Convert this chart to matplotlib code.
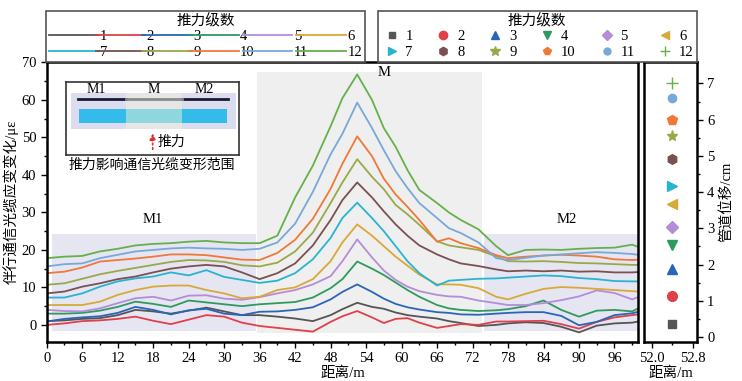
import numpy as np
import matplotlib
matplotlib.use('Agg')
from matplotlib import pyplot as plt
from matplotlib.lines import Line2D
from matplotlib.patches import Rectangle

plt.rcParams['font.family'] = ['Liberation Serif', 'Noto Sans CJK SC']
plt.rcParams['axes.unicode_minus'] = False

# distance along the cable (m)
dist = [0, 3, 6, 9, 12, 15, 18, 21, 24, 27, 30, 33, 36, 39, 42, 45, 48, 50, 52.5, 55, 57, 59,
        61, 63, 66, 68, 70, 73, 76, 78, 81, 84, 87, 90, 93, 96, 99, 100]

# strain change per thrust level (με)
s1 = [1.0, 1.2, 1.6, 1.8, 2.6, 4.0, 3.6, 3.0, 3.8, 4.6, 3.6, 2.6, 2.6, 2.2, 1.7, 1.0, 2.6, 4.2, 5.9, 4.8, 4.3, 3.3,
      2.6, 2.2, 1.7, 1.0, 0.5, -0.3, 0.0, 0.4, 0.7, 0.5, -0.5, -2.0, -0.2, 0.4, 0.6, 0.9]
s2 = [0.0, 0.4, 1.0, 1.2, 1.6, 2.2, 1.1, 0.2, 1.4, 2.6, 2.2, 0.6, -0.3, -0.8, -1.3, -1.8, 0.8, 2.3, 3.7, 2.0, 0.5, 1.6,
      1.8, 0.6, -0.8, -0.3, 0.2, 0.0, 0.9, 0.9, 1.0, 1.1, 0.2, -1.0, 0.8, 2.0, 2.6, 2.8]
s3 = [0.9, 1.6, 2.0, 2.3, 3.2, 4.8, 4.0, 2.8, 3.9, 4.3, 3.0, 2.6, 3.5, 3.6, 4.0, 4.7, 6.8, 8.8, 10.8, 8.8, 7.0, 5.6,
      4.7, 4.1, 3.4, 3.2, 2.8, 2.7, 3.0, 3.2, 3.4, 3.4, 2.4, -0.1, 0.8, 2.6, 3.1, 3.5]
s4 = [3.0, 3.0, 3.2, 3.8, 4.8, 6.2, 5.6, 4.8, 6.5, 6.0, 5.5, 5.0, 5.5, 5.8, 6.1, 7.3, 9.8, 12.2, 16.9, 15.0, 13.3, 11.3,
      9.3, 7.5, 5.3, 4.4, 4.0, 3.7, 3.9, 4.2, 5.0, 6.5, 4.0, 2.2, 3.8, 4.0, 3.6, 4.4]
s5 = [4.0, 3.7, 3.6, 4.4, 5.8, 7.1, 7.5, 6.5, 7.8, 7.9, 7.0, 6.7, 7.4, 8.4, 9.3, 10.8, 13.0, 17.0, 22.8, 18.0, 14.5, 12.0,
      10.2, 9.0, 8.0, 7.6, 7.5, 6.5, 5.8, 5.3, 5.3, 5.8, 6.6, 7.6, 9.2, 8.5, 6.8, 7.4]
s6 = [5.3, 5.3, 5.3, 6.2, 8.0, 9.3, 10.2, 10.5, 10.5, 9.3, 8.4, 7.1, 7.5, 9.3, 10.0, 12.2, 17.0, 22.0, 26.8, 23.8, 21.0, 18.2,
      15.8, 13.4, 10.8, 10.8, 10.7, 9.8, 7.5, 6.8, 8.3, 9.6, 10.1, 9.9, 9.6, 9.3, 9.0, 8.9]
s7 = [7.3, 7.3, 8.4, 10.2, 11.6, 12.4, 12.9, 14.0, 13.2, 14.6, 12.8, 12.0, 11.2, 11.8, 13.8, 17.5, 23.2, 28.5, 32.6, 28.5, 25.0, 21.0,
      17.0, 13.8, 10.5, 11.8, 12.0, 12.3, 12.4, 12.6, 12.9, 13.2, 13.0, 12.5, 12.2, 11.7, 11.6, 11.6]
s8 = [8.4, 8.9, 10.2, 11.1, 12.2, 12.9, 14.0, 15.0, 15.6, 16.0, 15.6, 14.0, 12.2, 13.8, 16.4, 21.2, 28.0, 33.3, 38.0, 34.0, 30.3, 26.8,
      23.8, 21.2, 18.8, 17.5, 16.4, 15.7, 14.8, 14.3, 14.5, 14.3, 14.5, 14.2, 14.3, 14.0, 14.0, 14.1]
s9 = [10.7, 11.1, 12.3, 13.5, 14.4, 15.2, 16.0, 16.8, 17.3, 17.2, 16.8, 15.9, 15.6, 16.6, 19.6, 24.6, 32.5, 38.0, 44.2, 39.5, 36.2, 32.0,
      29.5, 26.7, 22.3, 21.2, 20.7, 20.0, 18.3, 17.0, 16.9, 17.0, 16.8, 16.5, 16.4, 16.2, 16.0, 16.0]
s10 = [13.8, 14.2, 15.3, 16.9, 17.3, 17.7, 18.2, 18.8, 18.8, 18.6, 18.0, 17.4, 17.3, 19.2, 22.7, 28.3, 36.3, 43.0, 50.3, 45.0, 39.0, 34.8,
       31.5, 28.0, 22.2, 23.1, 21.8, 20.5, 18.6, 17.8, 18.2, 18.5, 18.7, 18.5, 18.2, 17.5, 17.3, 17.4]
s11 = [15.6, 16.2, 16.4, 17.8, 18.7, 19.6, 20.0, 20.4, 20.6, 20.4, 20.3, 20.0, 20.3, 22.0, 27.0, 35.5, 45.5, 51.0, 59.3, 52.5, 46.6, 41.0,
       36.5, 32.5, 28.5, 25.8, 24.5, 22.0, 17.8, 17.3, 17.9, 18.5, 18.8, 19.1, 19.4, 19.2, 18.9, 18.7]
s12 = [17.8, 18.2, 18.4, 19.6, 20.3, 21.2, 21.6, 21.8, 22.2, 22.4, 22.0, 21.8, 21.8, 23.8, 34.0, 42.5, 53.0, 60.5, 66.8, 60.0, 52.5, 47.5,
       41.3, 36.0, 32.5, 30.0, 28.0, 25.5, 21.0, 18.6, 20.0, 20.1, 20.0, 20.3, 20.5, 20.6, 21.4, 20.8]
strain = [s1, s2, s3, s4, s5, s6, s7, s8, s9, s10, s11, s12]

# pipe displacement at 52.4 m (cm)
pipe_x = 52.4
pipe_disp = [0.36, 1.12, 1.89, 2.53, 3.05, 3.66, 4.16, 4.92, 5.56, 6.0, 6.61, 7.0]

levels = [str(i) for i in range(1, 13)]
colors = ['#555555', '#e0404a', '#2a66b4', '#2e9a5e', '#b48cd8', '#d8a838',
          '#28b4d0', '#7a5050', '#9aa848', '#f07838', '#78a8d8', '#66b04a']
markers = ['s', 'o', '^', 'v', 'D', '<', '>', 'h', '*', 'p', 'o', '+']
msizes = [6, 7, 7, 7, 6, 7, 7, 7, 8, 7, 6, 8]

fig = plt.figure(figsize=(7.42, 3.81), dpi=100)
ax = fig.add_axes([0.063, 0.103, 0.797, 0.733])
ax2 = fig.add_axes([0.868, 0.103, 0.071, 0.733])

# shaded zones
ax.add_patch(Rectangle((0.85, -1.5), 34.55, 25.8, color='#e6e6f3', zorder=0, lw=0))
ax.add_patch(Rectangle((35.6, -2.2), 38.0, 69.7, color='#efefef', zorder=0, lw=0))
ax.add_patch(Rectangle((73.9, -1.5), 26.1, 25.8, color='#e6e6f3', zorder=0, lw=0))

for s, c in zip(strain, colors):
    ax.plot(dist, s, color=c, lw=1.3)

ax.text(18, 26.5, 'M1', ha='center', va='bottom', fontsize=10.5)
ax.text(57, 65.5, 'M', ha='center', va='bottom', fontsize=10.5)
ax.text(88, 26.5, 'M2', ha='center', va='bottom', fontsize=10.5)

ax.set_xlim(0, 100)
ax.set_ylim(-4.5, 70)
ax.set_xticks(np.arange(0, 100, 6))
ax.set_xticks(np.arange(3, 100, 6), minor=True)
ax.set_yticks(np.arange(0, 71, 10))
ax.set_yticks(np.arange(5, 70, 10), minor=True)
ax.tick_params(labelsize=10.5, length=4, width=1)
ax.tick_params(which='minor', length=2, width=1)
for sp in ax.spines.values():
    sp.set_linewidth(1.8)
ax.set_xlabel('距离/m', fontsize=10.5, labelpad=1)
ax.set_ylabel('伴行通信光缆应变变化/με', fontsize=10.5, labelpad=2)

# pipe displacement panel
for y, c, m, ms in zip(pipe_disp, colors, markers, msizes):
    ax2.plot([pipe_x], [y], marker=m, color=c, ms=ms, ls='none')
ax2.set_xlim(51.85, 52.87)
ax2.set_ylim(-0.13, 7.58)
ax2.set_xticks([52.0, 52.8])
ax2.set_xticklabels(['52.0', '52.8'])
ax2.set_xticks([52.4], minor=True)
ax2.set_yticks(range(0, 8))
ax2.set_yticks(np.arange(0.5, 7.5, 1), minor=True)
ax2.yaxis.tick_right()
ax2.yaxis.set_label_position('right')
ax2.tick_params(labelsize=10.5, length=4, width=1)
ax2.tick_params(which='minor', length=2, width=1)
for sp in ax2.spines.values():
    sp.set_linewidth(1.8)
ax2.set_xlabel('距离/m', fontsize=10.5, labelpad=1)
ax2.set_ylabel('管道位移/cm', fontsize=10.5, labelpad=3)

# legends: rows 1-6 and 7-12
order = [0, 6, 1, 7, 2, 8, 3, 9, 4, 10, 5, 11]
line_h = [Line2D([], [], color=colors[i], lw=1.3) for i in order]
mark_h = [Line2D([], [], color=colors[i], marker=markers[i], ms=msizes[i] - 1, ls='none') for i in order]
labs = [levels[i] for i in order]

leg1 = fig.legend(line_h, labs, title='推力级数', ncol=6, loc='lower left',
                  bbox_to_anchor=(0.062, 0.838, 0.43, 0.15), mode='expand',
                  fontsize=10.5, title_fontsize=10.5, handlelength=3.4, handletextpad=0.1,
                  columnspacing=0.3, labelspacing=0.15, borderaxespad=0, borderpad=0.2,
                  fancybox=False, edgecolor='#555555', framealpha=1)
leg1.get_frame().set_linewidth(1.2)
leg2 = fig.legend(mark_h, labs, title='推力级数', ncol=6, loc='lower left',
                  bbox_to_anchor=(0.509, 0.838, 0.43, 0.15), mode='expand',
                  fontsize=10.5, title_fontsize=10.5, handlelength=1.5, handletextpad=0.2,
                  columnspacing=0.3, labelspacing=0.15, borderaxespad=0, borderpad=0.2,
                  fancybox=False, edgecolor='#555555', framealpha=1)
leg2.get_frame().set_linewidth(1.2)

# inset sketch of the affected cable section
axi = fig.add_axes([0.089, 0.593, 0.233, 0.192])
axi.set_xlim(66, 239)
axi.set_ylim(155, 81.7)
axi.set_xticks([])
axi.set_yticks([])
for sp in axi.spines.values():
    sp.set_linewidth(1.2)
    sp.set_color('#333333')
axi.add_patch(Rectangle((70.7, 92.7), 165.3, 36.6, color='#dcdcf0', lw=0))
axi.add_patch(Rectangle((126, 92.7), 55.7, 36.6, color='#e6e6e6', lw=0))
axi.plot([78, 126], [99, 99], color='#1a1a2e', lw=2)
axi.plot([181.7, 228], [99, 99], color='#1a1a2e', lw=2)
axi.plot([126, 181.7], [99, 99], color='#8a8a8a', lw=2)
axi.add_patch(Rectangle((79, 109), 47, 14.3, color='#33bbea', lw=0))
axi.add_patch(Rectangle((181.7, 109), 45, 14.3, color='#33bbea', lw=0))
axi.add_patch(Rectangle((126, 109), 55.7, 14.3, color='#8fd6de', lw=0))
axi.annotate('', xy=(152.7, 130.5), xytext=(152.7, 152),
             arrowprops=dict(arrowstyle='-|>', color='#e03030', ls=':', lw=1.2, mutation_scale=9))
axi.text(158, 141.7, '推力', fontsize=10, va='center')
axi.text(96.7, 89, 'M1', fontsize=10, ha='center', va='center')
axi.text(154, 89, 'M', fontsize=10, ha='center', va='center')
axi.text(204, 89, 'M2', fontsize=10, ha='center', va='center')
fig.text(0.205, 0.567, '推力影响通信光缆变形范围', fontsize=10, ha='center', va='center')

fig.savefig('out.png', dpi=100)
